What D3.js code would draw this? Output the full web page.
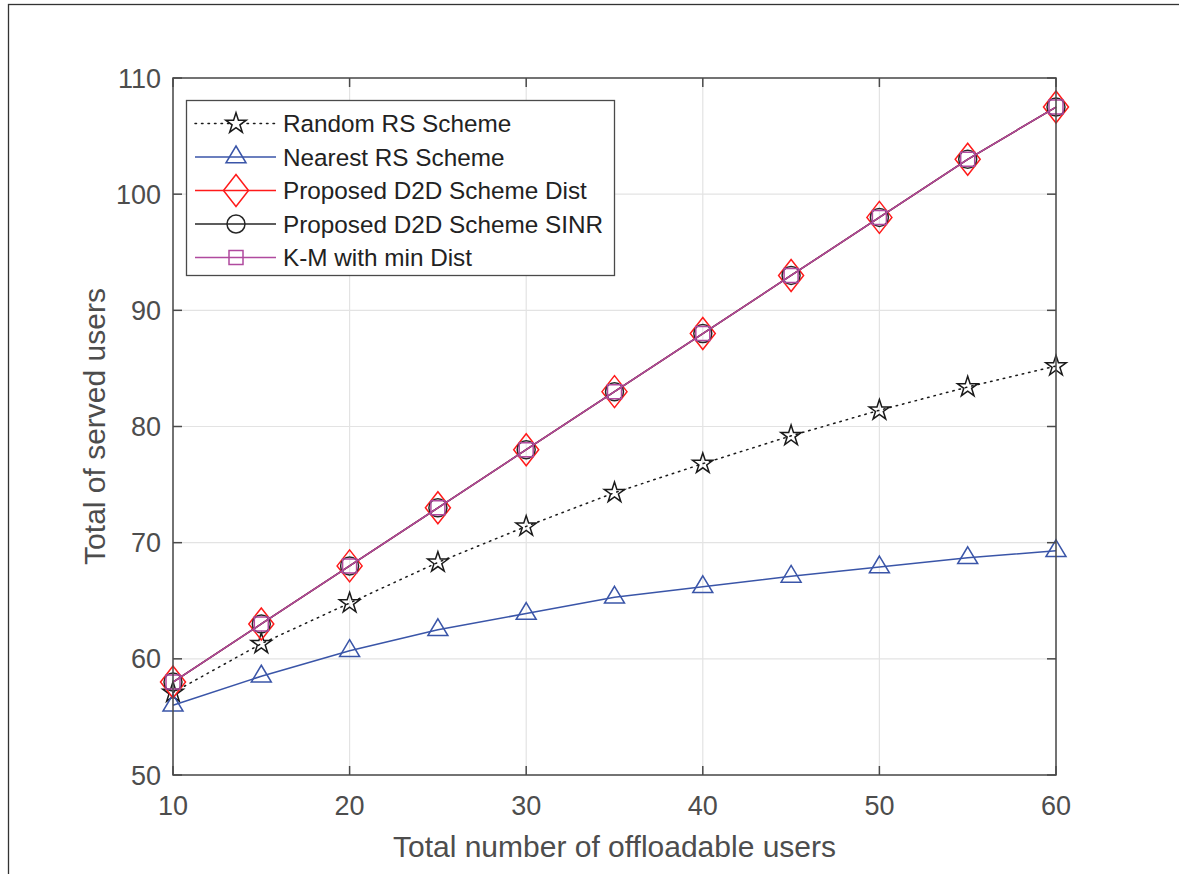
<!DOCTYPE html>
<html>
<head>
<meta charset="utf-8">
<script src="https://cdn.jsdelivr.net/npm/d3@7"></script>
<style>
  html, body { margin: 0; padding: 0; background: #fff; }
  svg { display: block; font-family: "Liberation Sans", Arial, Helvetica, sans-serif; }
</style>
</head>
<body>
<svg id="chart" width="1179" height="874"></svg>
<script>
// Valores
const X_VALUES = [10, 15, 20, 25, 30, 35, 40, 45, 50, 55, 60];
const RANDOM_RS = [57.1, 61.3, 64.8, 68.3, 71.4, 74.3, 76.8, 79.2, 81.4, 83.4, 85.2];
const NEAREST_RS = [56.0, 58.5, 60.7, 62.5, 63.9, 65.3, 66.2, 67.1, 67.9, 68.7, 69.3];
const D2D_DIST = [58, 63, 68, 73, 78, 83, 88, 93, 98, 103, 107.5];
const D2D_SINR = [58, 63, 68, 73, 78, 83, 88, 93, 98, 103, 107.5];
const KM_MIN_DIST = [58, 63, 68, 73, 78, 83, 88, 93, 98, 103, 107.5];
const X_TICKS = [10, 20, 30, 40, 50, 60];
const Y_TICKS = [50, 60, 70, 80, 90, 100, 110];

const SERIES = [
  { name: "Random RS Scheme", values: RANDOM_RS, color: "#1a1a1a", dash: "1.5,5", marker: "star" },
  { name: "Nearest RS Scheme", values: NEAREST_RS, color: "#3a55a8", dash: null, marker: "triangle" },
  { name: "Proposed D2D Scheme Dist", values: D2D_DIST, color: "#ff1a1a", dash: null, marker: "diamond" },
  { name: "Proposed D2D Scheme SINR", values: D2D_SINR, color: "#262626", dash: null, marker: "circle" },
  { name: "K-M with min Dist", values: KM_MIN_DIST, color: "#b04a9e", dash: null, marker: "square" },
];

const svg = d3.select("#chart");
const margin = { left: 173, top: 78, right: 1056, bottom: 775 };

// moldura externa da figura
svg.append("rect").attr("x", 8.5).attr("y", 4.5).attr("width", 1200).attr("height", 900)
  .attr("fill", "none").attr("stroke", "#333").attr("stroke-width", 1.3);

const x = d3.scaleLinear().domain([10, 60]).range([margin.left, margin.right]);
const y = d3.scaleLinear().domain([50, 110]).range([margin.bottom, margin.top]);

// grade
const g = svg.append("g");
g.selectAll(null).data(X_TICKS).enter().append("line")
  .attr("x1", (d) => x(d)).attr("x2", (d) => x(d))
  .attr("y1", margin.top).attr("y2", margin.bottom)
  .attr("stroke", "#e3e3e3").attr("stroke-width", 1.2);
g.selectAll(null).data(Y_TICKS).enter().append("line")
  .attr("x1", margin.left).attr("x2", margin.right)
  .attr("y1", (d) => y(d)).attr("y2", (d) => y(d))
  .attr("stroke", "#e3e3e3").attr("stroke-width", 1.2);

// marcadores (estilo MATLAB)
function markerPath(type) {
  switch (type) {
    case "diamond": return "M0,-16L12.5,0L0,16L-12.5,0Z";
    case "triangle": return "M0,-11L10,5.8L-10,5.8Z";
    case "square": return "M-7,-7H7V7H-7Z";
    case "circle": return d3.symbol(d3.symbolCircle, 254)();
    case "star": return d3.symbol(d3.symbolStar, 130)();
  }
}

const line = d3.line().x((d, i) => x(X_VALUES[i])).y((d) => y(d));

SERIES.forEach((s) => {
  const sg = svg.append("g");
  sg.append("path").datum(s.values)
    .attr("fill", "none").attr("stroke", s.color).attr("stroke-width", 1.5)
    .attr("stroke-dasharray", s.dash).attr("stroke-linecap", s.dash ? "round" : null)
    .attr("d", line);
  sg.selectAll(null).data(s.values).enter().append("path")
    .attr("transform", (d, i) => `translate(${x(X_VALUES[i])},${y(d)})`)
    .attr("d", markerPath(s.marker))
    .attr("fill", "none").attr("stroke", s.color).attr("stroke-width", 1.5);
});

// caixa dos eixos + ticks internos nos quatro lados
const axisColor = "#4a4a4a";
const textColor = "#4d4d4d";
svg.append("rect").attr("x", margin.left).attr("y", margin.top)
  .attr("width", margin.right - margin.left).attr("height", margin.bottom - margin.top)
  .attr("fill", "none").attr("stroke", axisColor).attr("stroke-width", 1.5);
const tl = 9;
X_TICKS.forEach((t) => {
  svg.append("line").attr("x1", x(t)).attr("x2", x(t)).attr("y1", margin.bottom).attr("y2", margin.bottom - tl)
    .attr("stroke", axisColor).attr("stroke-width", 1.5);
  svg.append("line").attr("x1", x(t)).attr("x2", x(t)).attr("y1", margin.top).attr("y2", margin.top + tl)
    .attr("stroke", axisColor).attr("stroke-width", 1.5);
  svg.append("text").attr("x", x(t)).attr("y", margin.bottom + 40)
    .attr("text-anchor", "middle").style("font-size", "27px").style("fill", textColor).text(t);
});
Y_TICKS.forEach((t) => {
  svg.append("line").attr("x1", margin.left).attr("x2", margin.left + tl).attr("y1", y(t)).attr("y2", y(t))
    .attr("stroke", axisColor).attr("stroke-width", 1.5);
  svg.append("line").attr("x1", margin.right).attr("x2", margin.right - tl).attr("y1", y(t)).attr("y2", y(t))
    .attr("stroke", axisColor).attr("stroke-width", 1.5);
  svg.append("text").attr("x", margin.left - 12).attr("y", y(t) + 9.5)
    .attr("text-anchor", "end").style("font-size", "27px").style("fill", textColor).text(t);
});

// rótulos dos eixos
svg.append("text").attr("x", (margin.left + margin.right) / 2).attr("y", 857)
  .attr("text-anchor", "middle").style("font-size", "30px").style("fill", textColor)
  .text("Total number of offloadable users");
svg.append("text").attr("transform", `translate(105,${(margin.top + margin.bottom) / 2}) rotate(-90)`)
  .attr("text-anchor", "middle").style("font-size", "30px").style("fill", textColor)
  .text("Total of served users");

// legenda
const lg = svg.append("g");
lg.append("rect").attr("x", 186.5).attr("y", 100.5).attr("width", 428).attr("height", 175)
  .attr("fill", "#fff").attr("stroke", axisColor).attr("stroke-width", 1.3);
SERIES.forEach((s, i) => {
  const ly = 123.5 + i * 33.5;
  lg.append("line").attr("x1", 195).attr("x2", 276).attr("y1", ly).attr("y2", ly)
    .attr("stroke", s.color).attr("stroke-width", 1.5)
    .attr("stroke-dasharray", s.dash).attr("stroke-linecap", s.dash ? "round" : null);
  lg.append("path").attr("transform", `translate(236,${ly})`).attr("d", markerPath(s.marker))
    .attr("fill", s.dash ? "#fff" : "none").attr("stroke", s.color).attr("stroke-width", 1.5);
  lg.append("text").attr("x", 283).attr("y", ly + 8.5)
    .style("font-size", "24.3px").style("fill", "#222").text(s.name);
});
</script>
</body>
</html>
